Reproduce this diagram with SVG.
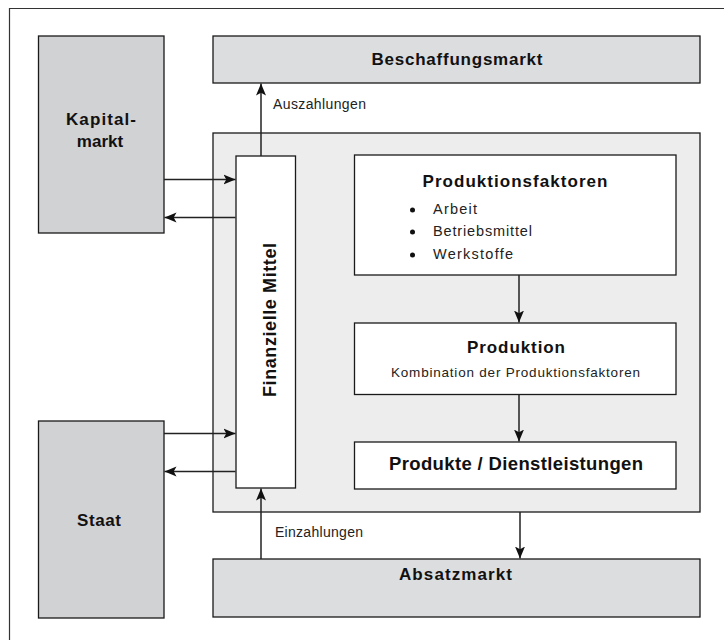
<svg xmlns="http://www.w3.org/2000/svg" width="724" height="640" viewBox="0 0 724 640">
<defs>
<marker id="ah" markerWidth="13" markerHeight="11" refX="12" refY="5.5" orient="auto" markerUnits="userSpaceOnUse">
<path d="M0,0.5 L12,5.5 L0,10.5 L2.8,5.5 Z" fill="#111"/>
</marker>
<style>
.bold{font-family:"Liberation Sans",Arial,sans-serif;font-weight:bold;fill:#111}
.reg{font-family:"Liberation Sans",Arial,sans-serif;fill:#222}
.box{stroke:#1a1a1a;stroke-width:1.3}
.conn line{stroke:#222;stroke-width:1.5;marker-end:url(#ah)}
</style>
</defs>
<rect width="724" height="640" fill="#fff"/>
<path d="M9.5,640 V8.5 H724" fill="none" stroke="#333" stroke-width="1.2"/>

<g id="company">
<rect class="box" x="213" y="133" width="487" height="379" fill="#ecedec"/>
</g>
<g id="kapitalmarkt">
<rect class="box" x="38.5" y="36" width="125.5" height="197" fill="#d1d2d4"/>
<text class="bold" x="101" y="125" font-size="17" text-anchor="middle" textLength="70">Kapital-</text>
<text class="bold" x="100" y="147" font-size="17" text-anchor="middle">markt</text>
</g>
<g id="staat">
<rect class="box" x="38.5" y="421" width="125.5" height="197" fill="#d1d2d4"/>
<text class="bold" x="99" y="526" font-size="17" text-anchor="middle" textLength="44">Staat</text>
</g>
<g id="beschaffungsmarkt">
<rect class="box" x="213" y="36" width="487" height="47" fill="#dcdddf"/>
<text class="bold" x="457" y="65" font-size="17" text-anchor="middle" textLength="171">Beschaffungsmarkt</text>
</g>
<g id="absatzmarkt">
<rect class="box" x="213" y="559" width="487" height="58" fill="#dcdddf"/>
<text class="bold" x="455.5" y="580" font-size="17" text-anchor="middle" textLength="113">Absatzmarkt</text>
</g>
<g id="finanzielle-mittel">
<rect class="box" x="236" y="156" width="59.5" height="332" fill="#fff"/>
<text class="bold" transform="translate(276,320) rotate(-90)" x="0" y="0" font-size="18" text-anchor="middle" textLength="154">Finanzielle Mittel</text>
</g>
<g id="produktionsfaktoren">
<rect class="box" x="354.5" y="155" width="321.5" height="120" fill="#fff"/>
<text class="bold" x="515" y="187" font-size="17" text-anchor="middle" textLength="185">Produktionsfaktoren</text>
<circle cx="412.5" cy="210" r="2.5" fill="#111"/>
<circle cx="412.5" cy="232" r="2.5" fill="#111"/>
<circle cx="412.5" cy="255" r="2.5" fill="#111"/>
<text class="reg" x="433" y="214" font-size="14.5" textLength="44">Arbeit</text>
<text class="reg" x="433" y="236" font-size="14.5" textLength="99">Betriebsmittel</text>
<text class="reg" x="433" y="259" font-size="14.5" textLength="80">Werkstoffe</text>
</g>
<g id="produktion">
<rect class="box" x="354.5" y="323" width="321.5" height="71.5" fill="#fff"/>
<text class="bold" x="516" y="353" font-size="17" text-anchor="middle" textLength="98">Produktion</text>
<text class="reg" x="515.5" y="377" font-size="13.5" text-anchor="middle" textLength="249">Kombination der Produktionsfaktoren</text>
</g>
<g id="produkte">
<rect class="box" x="354.5" y="442" width="321.5" height="47" fill="#fff"/>
<text class="bold" x="516" y="470" font-size="18.5" text-anchor="middle" textLength="254">Produkte / Dienstleistungen</text>
</g>

<g id="connectors" class="conn">
<line x1="261" y1="156" x2="261" y2="83.5"/>
<line x1="261" y1="559" x2="261" y2="488.5"/>
<line x1="164" y1="179.5" x2="235.5" y2="179.5"/>
<line x1="235.5" y1="217.5" x2="164.5" y2="217.5"/>
<line x1="164" y1="433.5" x2="235.5" y2="433.5"/>
<line x1="235.5" y1="471.5" x2="164.5" y2="471.5"/>
<line x1="519" y1="275" x2="519" y2="322.5"/>
<line x1="519" y1="394.5" x2="519" y2="441.5"/>
<line x1="520" y1="512" x2="520" y2="558.5"/>
</g>
<g id="labels">
<text class="reg" x="273" y="109" font-size="14" textLength="93">Auszahlungen</text>
<text class="reg" x="275" y="537" font-size="14" textLength="88">Einzahlungen</text>
</g>
</svg>
